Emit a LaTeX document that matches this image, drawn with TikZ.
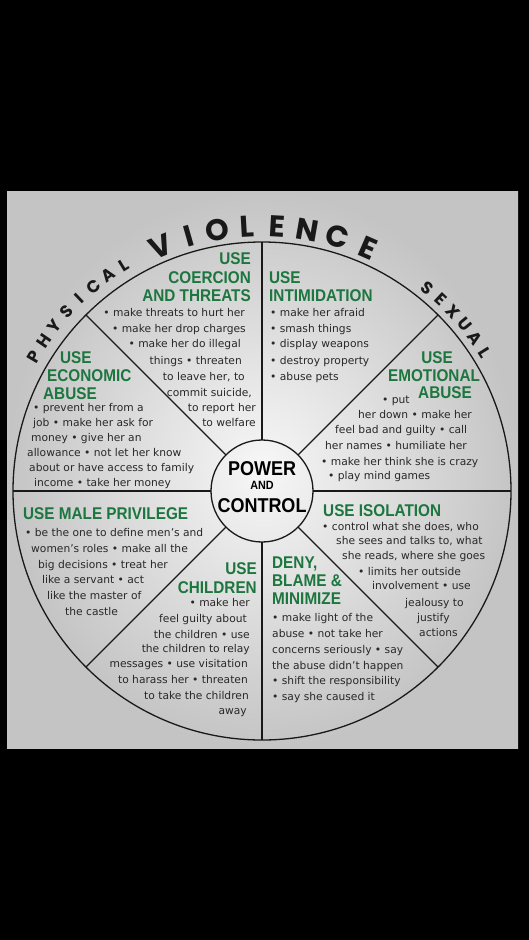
\documentclass[tikz,border=0pt]{standalone}
\usepackage{fontspec}
\setmainfont{DejaVu Sans}
\newfontfamily\bodyfont{DejaVu Sans}
\newfontfamily\headfont{Liberation Sans}[FakeStretch=0.9]
\newfontfamily\arcfont{Poppins}
\definecolor{grn}{RGB}{28,118,62}
\definecolor{txt}{RGB}{40,40,40}
\definecolor{ink}{RGB}{25,25,25}
\tikzset{
  body/.style={font=\bodyfont\fontsize{10.7}{13}\selectfont, text=txt, inner sep=0pt},
  head/.style={font=\headfont\bfseries\fontsize{17}{17}\selectfont, text=grn, inner sep=0pt},
  hubt/.style={font=\headfont\bfseries\fontsize{20}{20}\selectfont, text=black, inner sep=0pt},
  arcbig/.style={font=\arcfont\bfseries\fontsize{30}{30}\selectfont, text=ink, inner sep=0pt},
  arcsmall/.style={font=\arcfont\bfseries\fontsize{17}{17}\selectfont, text=ink, inner sep=0pt},
  ring/.style={circle, draw=ink, line width=1.3pt, inner sep=0pt, outer sep=0pt},
  spoke/.style={draw=ink, line width=1.2pt}
}
\begin{document}
\begin{tikzpicture}[x=1pt,y=-1pt]
\fill[black] (0,0) rectangle (529,940);
\shade[inner color={rgb,255:red,247;green,247;blue,247}, outer color={rgb,255:red,196;green,196;blue,196}] (7,191) rectangle (518,748);

\node[ring, minimum size=498pt] (wheel) at (262,491) {};
\node[ring, minimum size=102pt] (hub) at (262,491) {};
\foreach \a in {north,south,east,west,45,135,225,315}
  \draw[spoke] (hub.\a) -- (wheel.\a);

% arc lettering
\foreach \l/\a [count=\i] in {V/-22.5,I/-16,O/-9.7,L/-3.3,E/3.3,N/9.8,C/16.5,E/23.5}
  \node[arcbig, rotate={-(\a)}] (vio\i) at ({262+265*sin(\a)},{491-265*cos(\a)}) {\l};
\foreach \l/\a [count=\i] in {P/-59.5,H/-55.5,Y/-51.5,S/-47.5,I/-43.5,C/-39.5,A/-35.5,L/-31.5}
  \node[arcsmall, rotate={-(\a)}] (phy\i) at ({262+265*sin(\a)},{491-265*cos(\a)}) {\l};
\foreach \l/\a [count=\i] in {S/39.2,E/43,X/46.8,U/50.6,A/54.4,L/58.2}
  \node[arcsmall, rotate={-(\a)}] (sex\i) at ({262+262*sin(\a)},{491-262*cos(\a)}) {\l};

% hub text
\node[hubt, anchor=base] (pw) at (262,475.5) {POWER};
\node[hubt, font=\headfont\bfseries\fontsize{12}{12}\selectfont, anchor=base] (an) at (262,489.5) {AND};
\node[hubt, anchor=base] (ct) at (262,512.5) {CONTROL};

% coercion and threats
\foreach \y/\t [count=\i] in {264/USE,283/COERCION,301/AND THREATS}
  \node[head, anchor=base east] (coh\i) at (251,\y) {\t};
\foreach \x/\y/\t [count=\i] in {245/316/{• make threats to hurt her},246/332/{• make her drop charges},241/347/{• make her do illegal},242/364/{things • threaten},245/380/{to leave her, to},252/396/{commit suicide,},256/411/{to report her},256/426/{to welfare}}
  \node[body, anchor=base east] (co\i) at (\x,\y) {\t};

% intimidation
\foreach \y/\t [count=\i] in {283/USE,301/INTIMIDATION}
  \node[head, anchor=base west] (inh\i) at (269,\y) {\t};
\foreach \y/\t [count=\i] in {316/{• make her afraid},332/{• smash things},347/{• display weapons},364/{• destroy property},380/{• abuse pets}}
  \node[body, anchor=base west] (in\i) at (270,\y) {\t};

% economic abuse
\node[head, anchor=base west] (ech1) at (60,363) {USE};
\node[head, anchor=base west] (ech2) at (47,381) {ECONOMIC};
\node[head, anchor=base west] (ech3) at (43,399) {ABUSE};
\foreach \x/\y/\t [count=\i] in {33/411/{• prevent her from a},33/426/{job • make her ask for},31/441/{money • give her an},27/456/{allowance • not let her know},29/471/{about or have access to family},34/486/{income • take her money}}
  \node[body, anchor=base west] (ec\i) at (\x,\y) {\t};

% emotional abuse
\node[head, anchor=base] (emh1) at (437,363) {USE};
\node[head, anchor=base] (emh2) at (434,381) {EMOTIONAL};
\node[head, anchor=base] (emh3) at (445,398) {ABUSE};
\foreach \x/\y/\t [count=\i] in {382/403/{• put},358/418/{her down • make her},335/433/{feel bad and guilty • call},325/449/{her names • humiliate her},321/465/{• make her think she is crazy},328/479/{• play mind games}}
  \node[body, anchor=base west] (em\i) at (\x,\y) {\t};

% male privilege
\node[head, anchor=base west] (mph) at (23,519) {USE MALE PRIVILEGE};
\foreach \x/\y/\t [count=\i] in {25/536/{• be the one to define men’s and},31/552/{women’s roles • make all the},38/568/{big decisions • treat her},42/583/{like a servant • act},47/599/{like the master of},65/615/{the castle}}
  \node[body, anchor=base west] (mp\i) at (\x,\y) {\t};

% children
\node[head, anchor=base east] (chh1) at (257,574) {USE};
\node[head, anchor=base east] (chh2) at (257,593) {CHILDREN};
\foreach \x/\y/\t [count=\i] in {250/606/{• make her},247/622/{feel guilty about},250/638/{the children • use},250/652/{the children to relay},248/667/{messages • use visitation},248/683/{to harass her • threaten},249/699/{to take the children},247/714/{away}}
  \node[body, anchor=base east] (ch\i) at (\x,\y) {\t};

% deny blame minimize
\foreach \y/\t [count=\i] in {568/{DENY,},586/{BLAME \&},604/MINIMIZE}
  \node[head, anchor=base west] (dnh\i) at (272,\y) {\t};
\foreach \y/\t [count=\i] in {621/{• make light of the},637/{abuse • not take her},653/{concerns seriously • say},669/{the abuse didn’t happen},684/{• shift the responsibility},700/{• say she caused it}}
  \node[body, anchor=base west] (dn\i) at (272,\y) {\t};

% isolation
\node[head, anchor=base west] (ish) at (323,516) {USE ISOLATION};
\foreach \x/\y/\t [count=\i] in {322/530/{• control what she does, who},336/544/{she sees and talks to, what},342/559/{she reads, where she goes},358/575/{• limits her outside},372/589/{involvement • use},405/606/{jealousy to},417/621/{justify},419/636/{actions}}
  \node[body, anchor=base west] (is\i) at (\x,\y) {\t};
\end{tikzpicture}
\end{document}
